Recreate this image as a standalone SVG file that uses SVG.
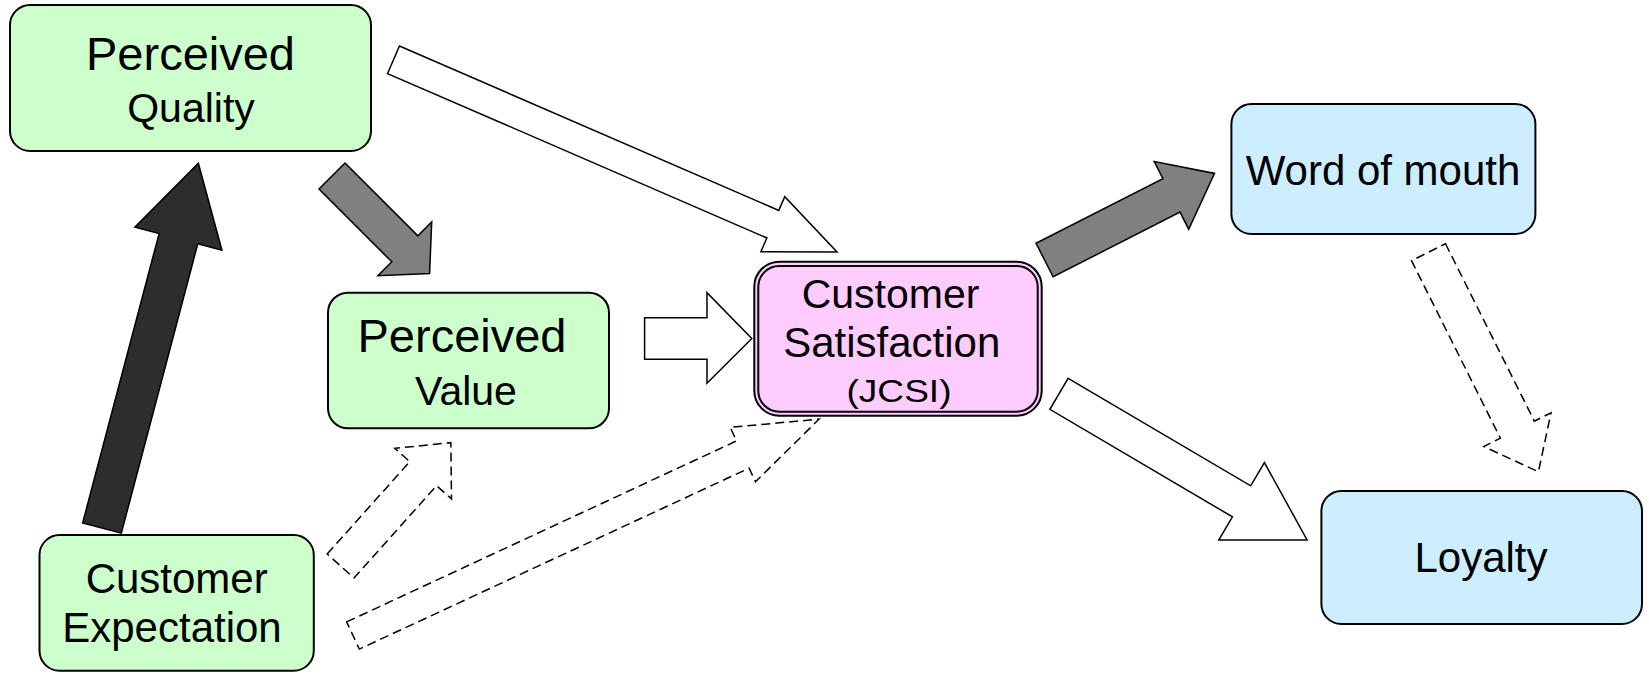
<svg xmlns="http://www.w3.org/2000/svg" width="1649" height="674" viewBox="0 0 1649 674">
<style>
.node{stroke:#000;stroke-width:2}
.g{fill:#ccffcc}
.b{fill:#cceeff}
.p{fill:#ffccff}
.t{font-family:"Liberation Sans",Arial,sans-serif;fill:#000;text-anchor:middle}
.aw{fill:#fff;stroke:#000;stroke-width:1.5;stroke-linejoin:miter}
.ag{fill:#808080;stroke:#000;stroke-width:1.5}
.ad{fill:#2d2d2d;stroke:#000;stroke-width:1.5}
.dash{fill:#fff;stroke:#000;stroke-width:1.5;stroke-dasharray:9,5}
</style>
<rect width="1649" height="674" fill="#fff"/>
<g id="connectors">
<polygon class="aw" transform="translate(393.5,59.8) rotate(23.43)" points="0,-15 413.4,-15 413.4,-30 483.4,0 413.4,30 413.4,15 0,15"/>
<polygon class="ag" transform="translate(332,176) rotate(45)" points="0,-18.4 103,-18.4 103,-38 138,0 103,38 103,18.4 0,18.4"/>
<polygon class="ad" transform="translate(102,528) rotate(-75.2)" points="0,-20 299.2,-20 299.2,-45 377.2,0 299.2,45 299.2,20 0,20"/>
<polygon class="ag" transform="translate(1044.6,260) rotate(-27)" points="0,-18.8 142.4,-18.8 142.4,-38 190.7,0 142.4,38 142.4,18.8 0,18.8"/>
<polygon class="aw" transform="translate(1059,393.8) rotate(30.5)" points="0,-18 211.9,-18 211.9,-45 287.9,0 211.9,45 211.9,18 0,18"/>
<polygon class="dash" transform="translate(1428.5,252.2) rotate(63.4)" points="0,-19 198.5,-19 198.5,-37.6 245.5,0 198.5,37.6 198.5,19 0,19"/>
<polygon class="dash" transform="translate(340.6,566) rotate(-48.2)" points="0,-18 123.9,-18 123.9,-38 165.4,0 123.9,38 123.9,18 0,18"/>
<polygon class="dash" transform="translate(353,635.5) rotate(-24.9)" points="0,-15 429.8,-15 429.8,-30 513.8,0 429.8,30 429.8,15 0,15"/>
<polygon class="aw" points="644.6,317.7 707,317.7 707,292.7 751.8,338.5 707,383.3 707,359.3 644.6,359.3"/>
</g>
<g id="perceived-quality">
<rect class="node g" x="10" y="5" width="361" height="146" rx="20"/>
<text class="t" x="190.5" y="70" font-size="47">Perceived</text>
<text class="t" x="191" y="122" font-size="41">Quality</text>
</g>
<g id="perceived-value">
<rect class="node g" x="328" y="292.7" width="281" height="135.6" rx="20"/>
<text class="t" x="462" y="352" font-size="47">Perceived</text>
<text class="t" x="466" y="405" font-size="41">Value</text>
</g>
<g id="customer-expectation">
<rect class="node g" x="39.5" y="535" width="274.3" height="135.7" rx="20"/>
<text class="t" x="176.7" y="593" font-size="42">Customer</text>
<text class="t" x="172" y="642" font-size="42">Expectation</text>
</g>
<g id="customer-satisfaction">
<rect class="node p" x="754.3" y="261.7" width="287.4" height="154" rx="25"/>
<rect class="node p" x="758.3" y="266" width="279.4" height="145.7" rx="21"/>
<text class="t" x="890.5" y="308" font-size="41">Customer</text>
<text class="t" x="891.7" y="357" font-size="42">Satisfaction</text>
<text class="t" x="899" y="402" font-size="31" textLength="105" lengthAdjust="spacingAndGlyphs">(JCSI)</text>
</g>
<g id="word-of-mouth">
<rect class="node b" x="1231.4" y="104" width="304" height="130" rx="20"/>
<text class="t" x="1383" y="185" font-size="42">Word of mouth</text>
</g>
<g id="loyalty">
<rect class="node b" x="1321.4" y="491" width="320.6" height="133" rx="20"/>
<text class="t" x="1481" y="572" font-size="42">Loyalty</text>
</g>
</svg>
